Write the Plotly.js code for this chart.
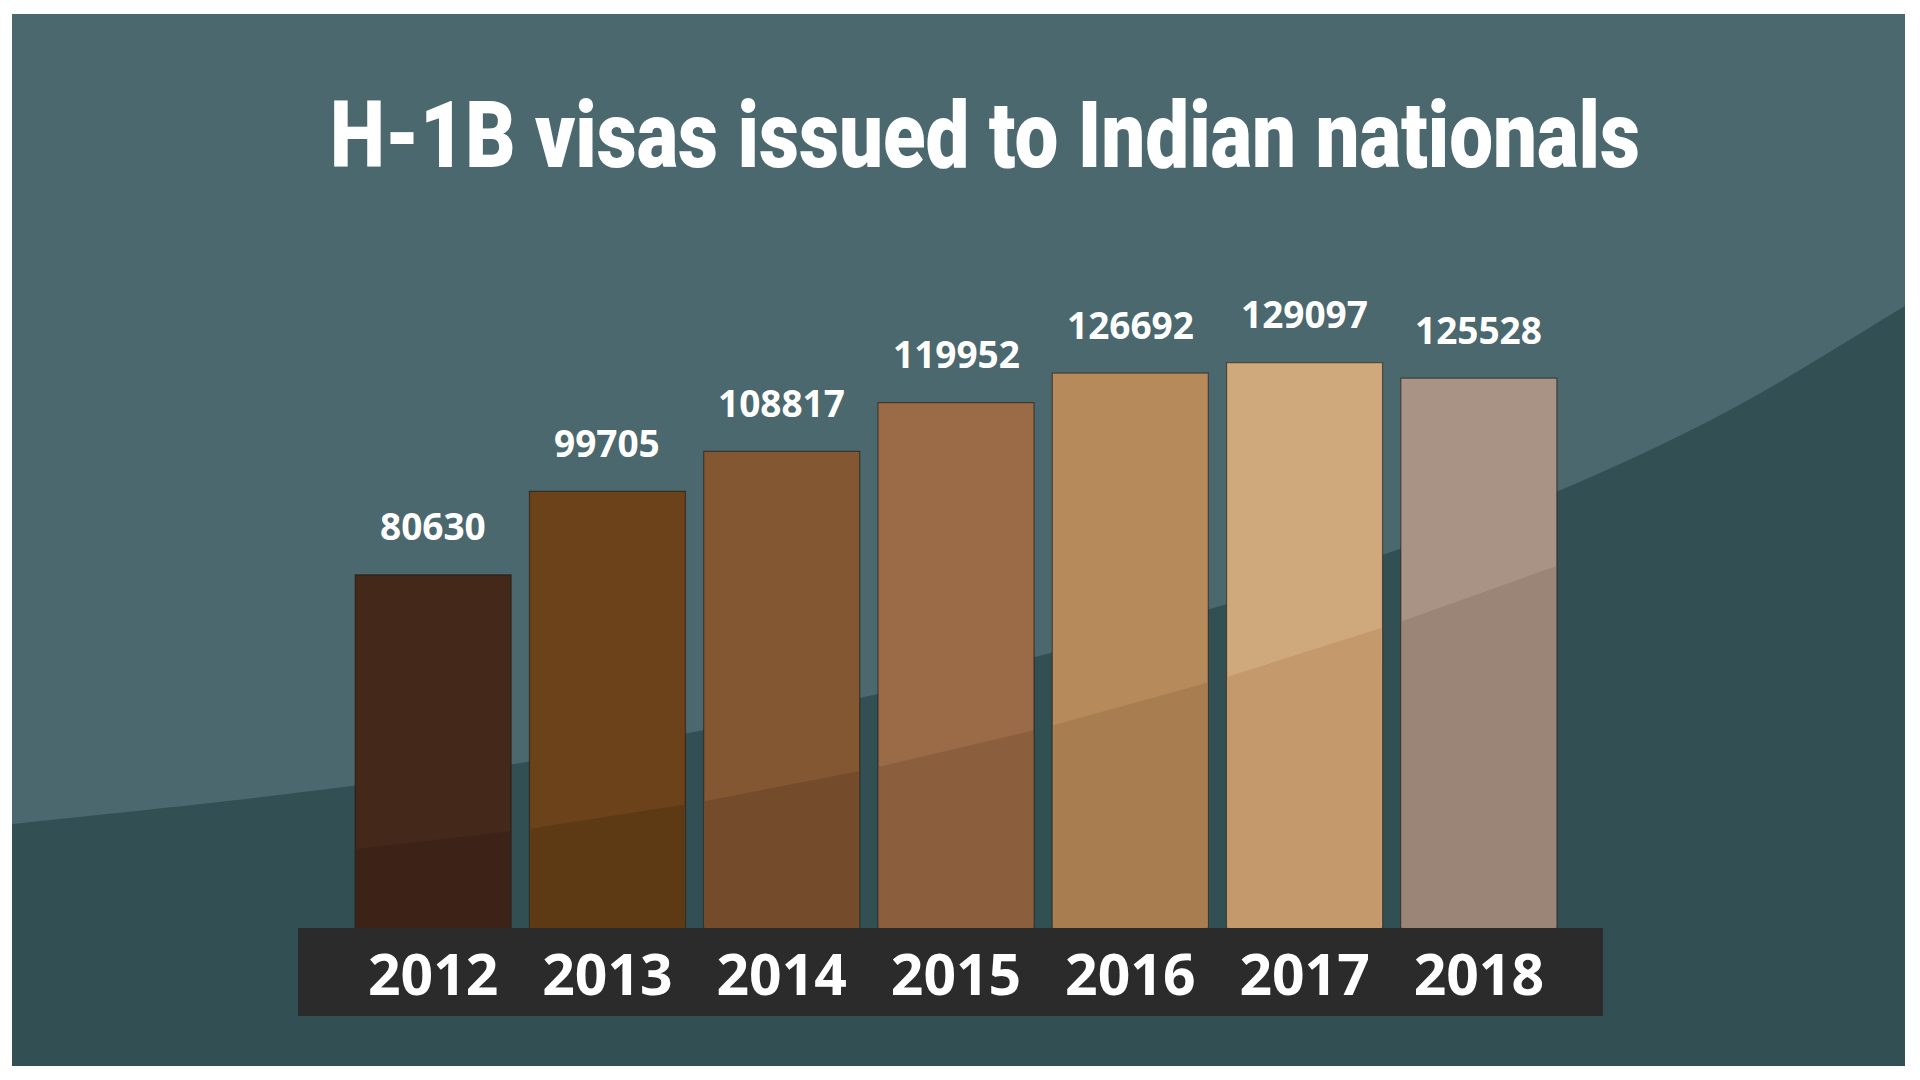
<!DOCTYPE html>
<html>
<head>
<meta charset="utf-8">
<script src="https://cdn.plot.ly/plotly-3.0.1.min.js"></script>
<style>
  html, body { margin: 0; padding: 0; background: #ffffff; width: 1920px; height: 1080px; overflow: hidden; }
  #chart { position: absolute; left: 12px; top: 14px; width: 1893px; height: 1052px; }
</style>
</head>
<body>
<div id="chart"></div>
<script>
// ---- data ----
const years = ['2012', '2013', '2014', '2015', '2016', '2017', '2018'];
const visas = [80630, 99705, 108817, 119952, 126692, 129097, 125528];
const barColors = ['#44291a', '#6b4219', '#835731', '#9a6b46', '#b68a5b', '#cfa87b', '#a89384'];
const barShadeColors = ['#3d2317', '#5e3a14', '#744c2b', '#8b5f3e', '#a87e50', '#c4996c', '#9b8577'];

// ---- layout geometry (page pixels) ----
const W = 1893, H = 1052, OX = 12, OY = 14;
const PLOT_L = 346, PLOT_W = 1220, BASE = 928, PLOT_H = 657;
const YMAX = 150000;
const BARGAP = 0.105;

function pX(fx) { return (fx - PLOT_L) / PLOT_W; }
function pY(fy) { return (BASE - fy) / PLOT_H; }

// background darker wave (decoration)
const wavePts = [[12, 824], [270, 796], [520, 763], [694, 732], [869, 696], [1043, 655],
                 [1217, 607], [1391, 552], [1556, 492], [1730, 410], [1905, 306]];
function smoothPath(pts) {
  let d = `M${pX(pts[0][0])},${pY(pts[0][1])}`;
  for (let i = 0; i < pts.length - 1; i++) {
    const p0 = pts[i - 1] || pts[i], p1 = pts[i], p2 = pts[i + 1], p3 = pts[i + 2] || pts[i + 1];
    const c1 = [p1[0] + (p2[0] - p0[0]) / 6, p1[1] + (p2[1] - p0[1]) / 6];
    const c2 = [p2[0] - (p3[0] - p1[0]) / 6, p2[1] - (p3[1] - p1[1]) / 6];
    d += ` C${pX(c1[0])},${pY(c1[1])} ${pX(c2[0])},${pY(c2[1])} ${pX(p2[0])},${pY(p2[1])}`;
  }
  return d;
}
let wavePath = smoothPath(wavePts);
wavePath += ` L${pX(1905)},${pY(1066)} L${pX(12)},${pY(1066)} Z`;

const shapes = [];
shapes.push({
  type: 'path', xref: 'paper', yref: 'paper', layer: 'below',
  path: wavePath, fillcolor: '#324f54', line: { width: 0 }
});

// category strip (below the tick labels)
shapes.push({
  type: 'rect', xref: 'paper', yref: 'paper', layer: 'below',
  x0: pX(298), x1: pX(1603), y0: 0, y1: pY(1016),
  fillcolor: '#2b2b2b', line: { width: 0 }
});

// gloss: lower darker part of each bar, below a gentle rising curve
function glossY(xd) { return 19910 + 4542 * xd + 805.6 * xd * xd; }
const hw = (1 - BARGAP) / 2, inset = 0.006;
years.forEach((y, i) => {
  const xa = i - hw + inset, xb = i + hw - inset;
  const ya = Math.min(glossY(xa), visas[i]), yb = Math.min(glossY(xb), visas[i]);
  const toP = (xd) => (xd + 0.5) / years.length;
  shapes.push({
    type: 'path', xref: 'paper', yref: 'y', layer: 'above',
    path: `M${toP(xa)},0.5 L${toP(xa)},${ya} L${toP(xb)},${yb} L${toP(xb)},0.5 Z`,
    fillcolor: barShadeColors[i], line: { width: 0 }
  });
});

const annotations = years.map((y, i) => ({
  x: i, y: visas[i], xref: 'x', yref: 'y',
  text: String(visas[i]), showarrow: false,
  xanchor: 'center', yanchor: 'middle', yshift: 49,
  font: { family: 'Open Sans, sans-serif', size: 37, color: '#ffffff', weight: 700 }
}));

const trace = {
  type: 'bar', x: years, y: visas,
  marker: { color: barColors, line: { color: 'rgba(30,20,12,0.55)', width: 1.2 } },
  hoverinfo: 'skip'
};

const layout = {
  width: W, height: H,
  margin: { l: PLOT_L - OX, r: W - (PLOT_L + PLOT_W - OX), t: BASE - PLOT_H - OY, b: H - (BASE - OY), pad: 0 },
  paper_bgcolor: '#4a686e', plot_bgcolor: 'rgba(0,0,0,0)',
  bargap: BARGAP,
  showlegend: false,
  title: {
    text: 'H-1B visas issued to Indian nationals',
    font: { family: 'Roboto, sans-serif', size: 92, color: '#ffffff', weight: 900 },
    x: 0.514, xanchor: 'center', xref: 'container',
    y: 1 - 121 / H, yanchor: 'middle', yref: 'container'
  },
  xaxis: {
    type: 'category', range: [-0.5, 6.5], showgrid: false, zeroline: false, showline: false,
    ticks: '', ticklabelstandoff: 9,
    tickfont: { family: 'Open Sans, sans-serif', size: 57, color: '#ffffff', weight: 700 },
    fixedrange: true
  },
  yaxis: { range: [0, YMAX], visible: false, showgrid: false, zeroline: false, fixedrange: true },
  shapes: shapes,
  annotations: annotations
};

Plotly.newPlot('chart', [trace], layout, { displayModeBar: false, staticPlot: true }).then(() => {
  const t = document.querySelector('.gtitle');
  if (t) {
    const bb = t.getBBox();
    const s = 1310 / bb.width;
    const cx = bb.x + bb.width / 2;
    t.setAttribute('transform', `translate(${cx},0) scale(${s},1) translate(${-cx},0)`);
  }
});
</script>
</body>
</html>
